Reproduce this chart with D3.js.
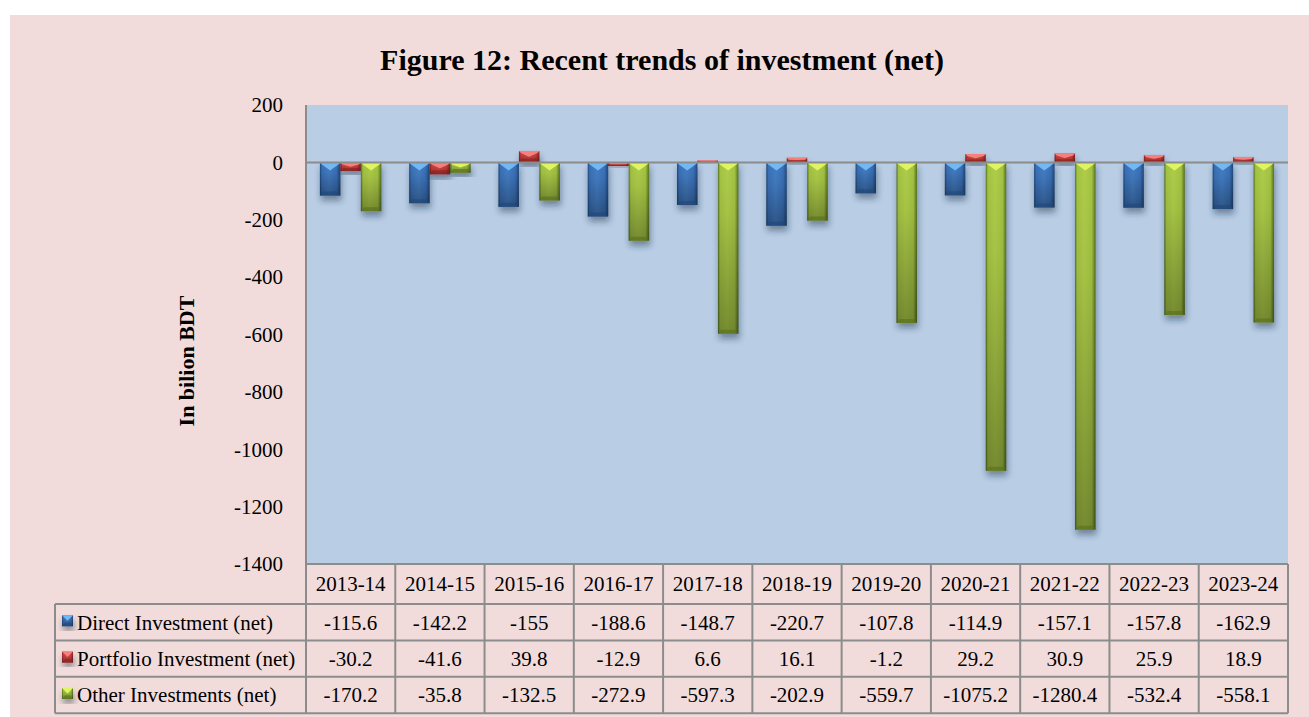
<!DOCTYPE html>
<html>
<head>
<meta charset="utf-8">
<script src="https://cdn.jsdelivr.net/npm/d3@7"></script>
<style>
  body { margin: 0; background: #fff; }
</style>
</head>
<body>
<svg id="chart" width="1309" height="717"></svg>
<script>
// data
const categories = ["2013-14", "2014-15", "2015-16", "2016-17", "2017-18", "2018-19", "2019-20", "2020-21", "2021-22", "2022-23", "2023-24"];
const seriesNames = ["Direct Investment (net)", "Portfolio Investment (net)", "Other Investments (net)"];
const directInvestment = [-115.6, -142.2, -155, -188.6, -148.7, -220.7, -107.8, -114.9, -157.1, -157.8, -162.9];
const portfolioInvestment = [-30.2, -41.6, 39.8, -12.9, 6.6, 16.1, -1.2, 29.2, 30.9, 25.9, 18.9];
const otherInvestments = [-170.2, -35.8, -132.5, -272.9, -597.3, -202.9, -559.7, -1075.2, -1280.4, -532.4, -558.1];
const yTicks = [200, 0, -200, -400, -600, -800, -1000, -1200, -1400];
// table text as printed (keeps "-155" etc.)
const tableText = [
  ["-115.6", "-142.2", "-155", "-188.6", "-148.7", "-220.7", "-107.8", "-114.9", "-157.1", "-157.8", "-162.9"],
  ["-30.2", "-41.6", "39.8", "-12.9", "6.6", "16.1", "-1.2", "29.2", "30.9", "25.9", "18.9"],
  ["-170.2", "-35.8", "-132.5", "-272.9", "-597.3", "-202.9", "-559.7", "-1075.2", "-1280.4", "-532.4", "-558.1"]
];

const seriesValues = [directInvestment, portfolioInvestment, otherInvestments];
const palette = [
  { base: "#3a71b9", light: "#72b8f4", dark: "#22487c" },
  { base: "#d2403e", light: "#f7807d", dark: "#8a2220" },
  { base: "#a3c343", light: "#dff462", dark: "#56701c" }
];
const FONT = "'Liberation Serif', 'Times New Roman', serif";

const svg = d3.select("#chart").style("font-family", FONT);

// chart background
svg.append("rect").attr("x", 10).attr("y", 15).attr("width", 1299).attr("height", 702).attr("fill", "#f2dcdb");

const plot = { left: 306, right: 1288, top: 105, bottom: 564 };
const table = { left: 55, header: 604, rowH: 36.4 };

const x = d3.scaleBand().domain(categories).range([plot.left, plot.right]).padding(0);
const xs = d3.scaleBand().domain(d3.range(3)).range([0, x.bandwidth()]).paddingInner(0).paddingOuter(0.68);
const y = d3.scaleLinear().domain([-1400, 200]).range([plot.bottom, plot.top]);

// plot area
svg.append("rect")
  .attr("x", plot.left).attr("y", plot.top)
  .attr("width", plot.right - plot.left).attr("height", plot.bottom - plot.top)
  .attr("fill", "#b9cde5");

const defs = svg.append("defs");
const shadow = defs.append("filter").attr("id", "shadow")
  .attr("x", "-50%").attr("y", "-20%").attr("width", "200%").attr("height", "160%");
shadow.append("feDropShadow").attr("dx", 1).attr("dy", 5).attr("stdDeviation", 3)
  .attr("flood-color", "#1a2a40").attr("flood-opacity", 0.45);

palette.forEach((c, i) => {
  const g = defs.append("linearGradient").attr("id", "grad" + i).attr("x1", 0).attr("x2", 1).attr("y1", 0).attr("y2", 0);
  g.append("stop").attr("offset", "0").attr("stop-color", c.dark);
  g.append("stop").attr("offset", "0.1").attr("stop-color", c.base);
  g.append("stop").attr("offset", "0.45").attr("stop-color", d3.interpolateRgb(c.base, c.light)(0.2));
  g.append("stop").attr("offset", "0.82").attr("stop-color", c.base);
  g.append("stop").attr("offset", "1").attr("stop-color", c.dark);
});
const shade = defs.append("linearGradient").attr("id", "shade").attr("x1", 0).attr("x2", 0).attr("y1", 0).attr("y2", 1);
shade.append("stop").attr("offset", "0").attr("stop-color", "#000").attr("stop-opacity", 0);
shade.append("stop").attr("offset", "0.3").attr("stop-color", "#000").attr("stop-opacity", 0.05);
shade.append("stop").attr("offset", "1").attr("stop-color", "#000").attr("stop-opacity", 0.32);

// draws one bevelled block
function bevelBar(sel, bx, top, w, h, i) {
  const c = palette[i];
  const bot = top + h;
  const bt = Math.min(8, h * 0.5);
  const bb = Math.min(4, h * 0.35);
  const g = sel.append("g").attr("filter", "url(#shadow)");
  g.append("rect").attr("x", bx).attr("y", top).attr("width", w).attr("height", h).attr("fill", `url(#grad${i})`);
  g.append("rect").attr("x", bx).attr("y", top).attr("width", w).attr("height", h).attr("fill", "url(#shade)");
  g.append("polygon")
    .attr("points", [[bx, bot], [bx + w, bot], [bx + w - 3, bot - bb], [bx + 3, bot - bb]].join(" "))
    .attr("fill", c.dark).attr("opacity", 0.6);
  g.append("polygon")
    .attr("points", [[bx, top], [bx + w, top], [bx + w - 2, top + Math.min(2, bt)], [bx + w / 2, top + bt], [bx + 2, top + Math.min(2, bt)]].join(" "))
    .attr("fill", c.light);
}

// bars
const barLayer = svg.append("g");
categories.forEach((cat, ci) => {
  seriesValues.forEach((vals, si) => {
    const v = vals[ci];
    const top = y(Math.max(0, v));
    const h = Math.abs(y(v) - y(0));
    if (h < 0.5) return;
    bevelBar(barLayer, x(cat) + xs(si), top, xs.bandwidth(), h, si);
  });
});

// axes lines
svg.append("line").attr("x1", plot.left).attr("x2", plot.right).attr("y1", y(0)).attr("y2", y(0))
  .attr("stroke", "#8c8c8c").attr("stroke-width", 2);
svg.append("line").attr("x1", plot.left).attr("x2", plot.left).attr("y1", plot.top).attr("y2", plot.bottom)
  .attr("stroke", "#8c8c8c").attr("stroke-width", 2);

// y tick labels
svg.append("g").selectAll("text").data(yTicks).join("text")
  .attr("x", 283).attr("y", d => y(d)).attr("dy", "0.35em")
  .attr("text-anchor", "end").style("font-family", FONT).style("font-size", "21px")
  .text(d => d);

// y axis title
svg.append("text")
  .attr("transform", "translate(194,361) rotate(-90)")
  .attr("text-anchor", "middle").style("font-family", FONT).style("font-size", "22px").style("font-weight", "bold")
  .text("In bilion BDT");

// title
svg.append("text").attr("x", 662).attr("y", 70).attr("text-anchor", "middle")
  .style("font-family", FONT).style("font-size", "30px").style("font-weight", "bold")
  .text("Figure 12: Recent trends of investment (net)");

// data table
const tbl = svg.append("g");
const rowY = d3.range(4).map(r => table.header + r * table.rowH);
const lineColor = "#8c8c8c";

tbl.append("g").selectAll("line").data([plot.bottom]).join("line")
  .attr("x1", plot.left).attr("x2", plot.right).attr("y1", d => d).attr("y2", d => d)
  .attr("stroke", lineColor).attr("stroke-width", 2);
tbl.append("g").selectAll("line").data(rowY).join("line")
  .attr("x1", table.left).attr("x2", plot.right).attr("y1", d => d).attr("y2", d => d)
  .attr("stroke", lineColor).attr("stroke-width", 2);
tbl.append("g").selectAll("line").data(categories.map(c => x(c)).concat([plot.right])).join("line")
  .attr("x1", d => d).attr("x2", d => d).attr("y1", plot.bottom).attr("y2", rowY[3])
  .attr("stroke", lineColor).attr("stroke-width", 2);
tbl.append("line").attr("x1", table.left).attr("x2", table.left).attr("y1", rowY[0]).attr("y2", rowY[3])
  .attr("stroke", lineColor).attr("stroke-width", 2);

// header categories
tbl.append("g").selectAll("text").data(categories).join("text")
  .attr("x", d => x(d) + x.bandwidth() / 2).attr("y", (plot.bottom + rowY[0]) / 2).attr("dy", "0.35em")
  .attr("text-anchor", "middle").style("font-family", FONT).style("font-size", "21px")
  .text(d => d);

// rows
seriesNames.forEach((name, si) => {
  const cy = rowY[si] + table.rowH / 2;
  bevelBar(tbl, 62, cy - 7, 11, 11, si);
  tbl.append("text").attr("x", 77).attr("y", cy).attr("dy", "0.35em")
    .style("font-family", FONT).style("font-size", "21px").text(name);
  tbl.append("g").selectAll("text").data(categories).join("text")
    .attr("x", d => x(d) + x.bandwidth() / 2).attr("y", cy).attr("dy", "0.35em")
    .attr("text-anchor", "middle").style("font-family", FONT).style("font-size", "21px")
    .text((d, ci) => tableText[si][ci]);
});
</script>
</body>
</html>
